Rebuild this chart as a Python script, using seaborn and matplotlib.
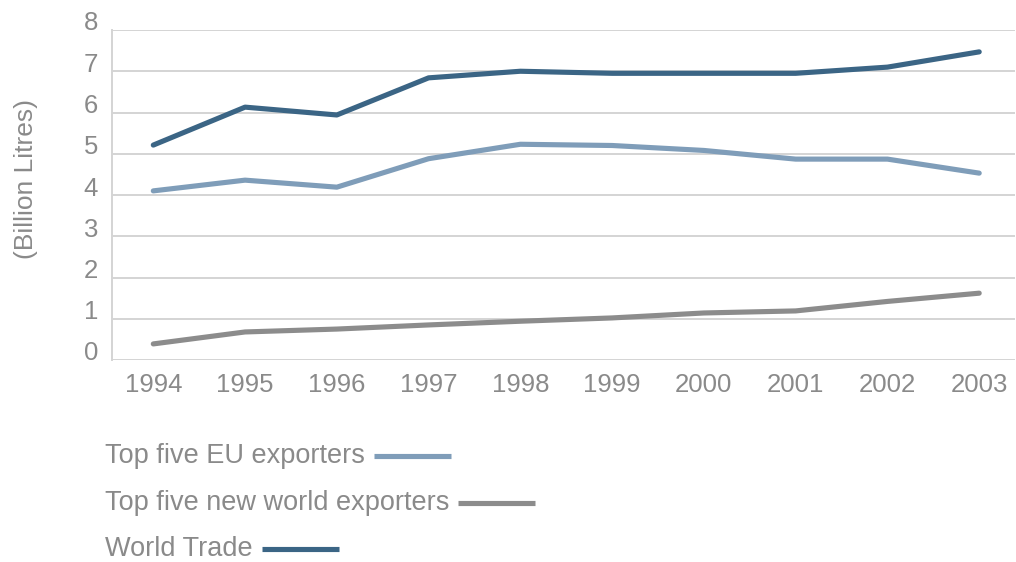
import matplotlib
matplotlib.use("Agg")
import matplotlib.pyplot as plt
import matplotlib.transforms as mtransforms
from matplotlib.lines import Line2D
import seaborn as sns
import pandas as pd

years = [1994, 1995, 1996, 1997, 1998, 1999, 2000, 2001, 2002, 2003]
world_trade = [5.21, 6.13, 5.94, 6.84, 7.00, 6.95, 6.95, 6.95, 7.10, 7.47]
eu_top5 = [4.10, 4.36, 4.19, 4.88, 5.23, 5.20, 5.08, 4.87, 4.87, 4.53]
new_world_top5 = [0.39, 0.68, 0.75, 0.85, 0.94, 1.02, 1.14, 1.19, 1.42, 1.62]

series_names = ["Top five EU exporters", "Top five new world exporters", "World Trade"]
colors = ["#7f9db9", "#8c8c8c", "#3b6585"]
y_ticks = [0, 1, 2, 3, 4, 5, 6, 7, 8]
y_label = "(Billion Litres)"

sns.set_style("white")
FONT = ["Liberation Sans", "DejaVu Sans"]
plt.rcParams["font.family"] = FONT
TXT = "#8a8a8a"

df = pd.DataFrame({
    "Year": years * 3,
    "Value": eu_top5 + new_world_top5 + world_trade,
    "Series": [series_names[0]] * 10 + [series_names[1]] * 10 + [series_names[2]] * 10,
})

fig = plt.figure(figsize=(10.16, 5.62), dpi=100)
ax = fig.add_axes([112 / 1016, 1 - 360 / 562, 903 / 1016, 330 / 562])

sns.lineplot(data=df, x="Year", y="Value", hue="Series", palette=dict(zip(series_names, colors)),
             linewidth=3.7, legend=False, ax=ax, zorder=3)

ax.set_xlim(1993.55, 2003.39)
ax.set_ylim(0, 8)
ax.set_yticks(y_ticks)
ax.set_xticks(years)
ax.set_xticklabels([str(y) for y in years])
ax.set_xlabel("")
ax.set_ylabel("")
for yv in y_ticks:
    ax.axhline(yv, color="#d4d4d4", lw=1.4, zorder=1)
for s in ["top", "right", "bottom"]:
    ax.spines[s].set_visible(False)
ax.spines["left"].set_color("#d4d4d4")
ax.spines["left"].set_linewidth(1.4)
ax.tick_params(axis="both", length=0, labelsize=18.5, labelcolor=TXT)
ax.tick_params(axis="y", pad=10)
ax.tick_params(axis="x", pad=9)
off = mtransforms.ScaledTranslation(0, 0.09, fig.dpi_scale_trans)
for lab in ax.get_yticklabels():
    lab.set_transform(lab.get_transform() + off)

fig.text(26 / 1016, 1 - 179 / 562, y_label, rotation=90, ha="center", va="center",
         fontsize=19, color=TXT)

# legend: text followed by a short line sample
renderer = fig.canvas.get_renderer()
leg_y = [456, 503, 549]
for name, col, yy in zip(series_names, colors, leg_y):
    t = fig.text(105 / 1016, 1 - yy / 562, name, ha="left", va="center", fontsize=19.5, color=TXT)
    bb = t.get_window_extent(renderer=renderer)
    x0 = bb.x1 + 9
    fig.add_artist(Line2D([x0 / 1016, (x0 + 77) / 1016], [1 - yy / 562, 1 - yy / 562],
                          transform=fig.transFigure, color=col, lw=3.7, solid_capstyle="butt"))

fig.savefig("out.png", dpi=100)
